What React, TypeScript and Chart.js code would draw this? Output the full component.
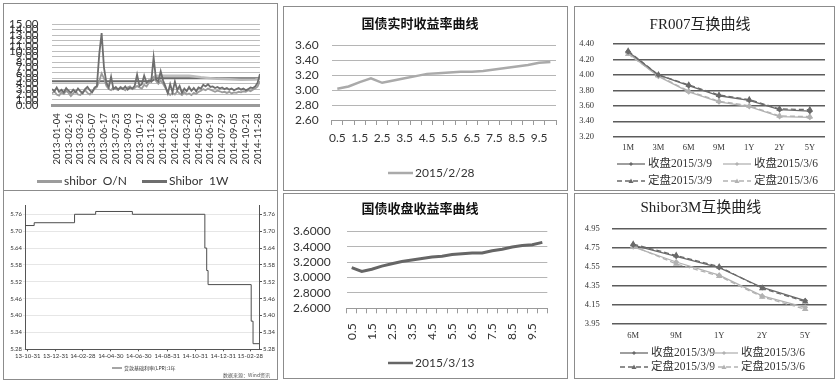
import React, { useEffect, useRef } from 'react';
import { Chart, registerables } from 'chart.js';

Chart.register(...registerables);

// ---------- Shibor O/N and 1W fixings, 2013-01 .. 2014-12 ----------
const shiborTickDates = [
  '2013-01-04', '2013-02-16', '2013-03-26', '2013-05-07', '2013-06-17', '2013-07-25',
  '2013-09-03', '2013-10-17', '2013-11-26', '2014-01-06', '2014-02-18', '2014-03-28',
  '2014-05-09', '2014-06-19', '2014-07-29', '2014-09-05', '2014-10-21', '2014-11-28',
];
const shiborLevels = [0, 1, 2, 3, 4, 5, 6, 7, 8, 9, 10, 11, 12, 13, 14, 15];
const shiborON = [
  2.2, 2.6, 2.0, 1.8, 2.4, 2.1, 2.7, 2.3, 1.7, 2.2,
  2.6, 2.0, 1.9, 2.5, 2.8, 2.3, 2.0, 2.6, 3.0, 3.4,
  4.5, 5.9, 5.0, 3.6, 3.0, 2.8, 3.3, 3.0, 2.9, 3.4,
  3.1, 2.8, 3.3, 3.5, 3.0, 3.2, 3.6, 3.3, 3.1, 3.8,
  3.5, 4.2, 4.8, 5.2, 4.5, 4.0, 4.6, 4.0, 3.2, 2.4,
  1.9, 2.3, 2.0, 2.6, 2.2, 1.9, 2.4, 2.0, 2.2, 1.9,
  2.3, 2.1, 2.5, 2.7, 3.0, 2.8, 3.1, 2.9, 2.7, 2.5,
  2.7, 2.6, 2.4, 2.5, 2.3, 2.5, 2.2, 2.4, 2.3, 2.5,
  2.4, 2.6, 2.5, 2.8, 2.6, 2.9, 3.1, 3.5, 4.5,
];
const shibor1W = [
  3.0, 2.6, 3.3, 2.5, 2.9, 2.4, 3.2, 2.7, 2.3, 2.9,
  2.4, 3.1, 2.6, 2.2, 3.0, 3.4, 2.8, 2.4, 3.3, 3.6,
  9.5, 13.4, 7.0, 4.2, 3.3, 5.3, 3.0, 3.4, 2.9, 3.3,
  3.0, 3.5, 2.9, 3.3, 3.1, 3.6, 5.7, 3.6, 3.9, 5.5,
  4.2, 4.6, 4.4, 8.9, 4.8, 4.4, 6.3, 4.6, 3.5, 2.2,
  3.9, 2.4, 4.4, 2.8, 3.6, 2.3, 3.1, 2.6, 3.4, 2.7,
  3.2, 2.6, 3.3, 3.1, 3.8, 3.5, 3.9, 3.4, 3.5, 3.2,
  3.4, 3.1, 3.3, 3.0, 3.2, 2.9, 3.1, 2.8, 3.0, 3.2,
  2.9, 3.1, 2.8, 3.0, 3.3, 3.2, 3.5, 4.2, 5.8,
];
// smoother reference levels plotted behind the daily fixings
const shiborUpperX = [0, 42, 44, 88];
const shiborUpper = [4.45, 4.45, 5.0, 5.0];
const shiborSoftX = [41, 44, 58, 63, 70, 80, 86, 88];
const shiborSoft = [4.6, 5.5, 5.5, 5.2, 4.9, 4.75, 4.8, 4.9];

// ---------- government bond yield curves ----------
const bondTenors = ['0.5', '1', '1.5', '2', '2.5', '3', '3.5', '4', '4.5', '5',
  '5.5', '6', '6.5', '7', '7.5', '8', '8.5', '9', '9.5', '10'];
const realtimeYield = [3.02, 3.05, 3.11, 3.16, 3.10, 3.13, 3.16, 3.19, 3.22, 3.23,
  3.24, 3.25, 3.25, 3.26, 3.28, 3.30, 3.32, 3.34, 3.37, 3.38];
const closingYield = [3.13, 3.08, 3.11, 3.15, 3.18, 3.21, 3.23, 3.25, 3.27, 3.28,
  3.30, 3.31, 3.32, 3.32, 3.35, 3.37, 3.40, 3.42, 3.43, 3.46];

// ---------- FR007 swap curve ----------
const fr007Tenors = ['1M', '3M', '6M', '9M', '1Y', '2Y', '5Y'];
const fr007Close0309 = [4.30, 4.00, 3.86, 3.73, 3.67, 3.55, 3.53];
const fr007Close0306 = [4.28, 3.98, 3.78, 3.65, 3.59, 3.46, 3.45];
const fr007Fix0309 = [4.31, 4.00, 3.87, 3.74, 3.68, 3.56, 3.55];
const fr007Fix0306 = [4.27, 3.99, 3.79, 3.66, 3.60, 3.47, 3.46];

// ---------- Shibor 3M swap curve ----------
const s3mTenors = ['6M', '9M', '1Y', '2Y', '5Y'];
const s3mClose0309 = [4.78, 4.66, 4.54, 4.33, 4.19];
const s3mClose0306 = [4.76, 4.60, 4.46, 4.24, 4.12];
const s3mFix0309 = [4.79, 4.67, 4.55, 4.32, 4.18];
const s3mFix0306 = [4.77, 4.58, 4.45, 4.23, 4.10];

// ---------- 1Y loan prime rate ----------
const lprStart = '2013-10-25';
const lprEnd = '2015-03-19';
const lprDates = ['2013-10-25', '2013-11-14', '2014-02-10', '2014-03-28', '2014-06-16',
  '2014-11-21', '2014-11-25', '2014-11-28', '2015-03-02', '2015-03-06', '2015-03-19'];
const lprValues = [5.72, 5.73, 5.76, 5.77, 5.76, 5.64, 5.56, 5.51, 5.38, 5.30, 5.30];
const lprTickDates = ['2013-10-31', '2013-12-31', '2014-02-28', '2014-04-30', '2014-06-30',
  '2014-08-31', '2014-10-31', '2014-12-31', '2015-02-28'];
const lprLevels = [5.28, 5.34, 5.40, 5.46, 5.52, 5.58, 5.64, 5.70, 5.76];

const SANS = 'Lato, "Noto Sans CJK SC", sans-serif';
const SERIF = '"Liberation Serif", "Noto Sans CJK SC", serif';
const CJK = '"Noto Sans CJK SC", sans-serif';
const DARK = '#6a6a6a';
const LIGHT = '#b2b2b2';

const dayOf = (d: string) => (Date.parse(d) - Date.parse(lprStart)) / 864e5;

// small filled marker used in the swap-curve legends
function drawMarker(ctx: CanvasRenderingContext2D, style: string, x: number, y: number, r: number, color: string) {
  ctx.fillStyle = color;
  ctx.strokeStyle = color;
  ctx.setLineDash([]);
  ctx.beginPath();
  if (style === 'triangle') {
    ctx.moveTo(x, y - r);
    ctx.lineTo(x + r, y + r * 0.8);
    ctx.lineTo(x - r, y + r * 0.8);
  } else {
    ctx.moveTo(x, y - r);
    ctx.lineTo(x + r, y);
    ctx.lineTo(x, y + r);
    ctx.lineTo(x - r, y);
  }
  ctx.closePath();
  ctx.fill();
}

// legend drawn as a short line sample (with optional marker) followed by the series name
const lineLegend = {
  id: 'lineLegend',
  afterDraw(chart: any, _args: unknown, opts: any) {
    if (!opts || !opts.entries) return;
    const ctx: CanvasRenderingContext2D = chart.ctx;
    ctx.save();
    ctx.font = opts.font;
    ctx.textBaseline = 'middle';
    ctx.textAlign = 'left';
    for (const e of opts.entries) {
      const ds = chart.data.datasets[e.index];
      ctx.strokeStyle = ds.borderColor;
      ctx.lineWidth = opts.lineWidth || ds.borderWidth;
      ctx.setLineDash(ds.borderDash || []);
      ctx.beginPath();
      ctx.moveTo(e.x, e.y);
      ctx.lineTo(e.x + opts.sample, e.y);
      ctx.stroke();
      if (opts.markers && ds.pointStyle) {
        drawMarker(ctx, ds.pointStyle, e.x + opts.sample / 2, e.y, ds.pointRadius, ds.borderColor);
      }
      ctx.fillStyle = opts.color;
      ctx.fillText(ds.label, e.x + opts.sample + opts.gap, e.y);
    }
    ctx.restore();
  },
};

const captions = {
  id: 'captions',
  afterDraw(chart: any, _args: unknown, opts: any) {
    if (!opts || !opts.items) return;
    const ctx: CanvasRenderingContext2D = chart.ctx;
    ctx.save();
    ctx.textBaseline = 'middle';
    for (const c of opts.items) {
      ctx.font = c.font;
      ctx.fillStyle = c.color;
      ctx.textAlign = c.align || 'left';
      ctx.fillText(c.text, c.x, c.y);
    }
    ctx.restore();
  },
};

Chart.register(lineLegend, captions);

const fixWidth = (w: number) => (s: any) => { s.width = w; };
const fixHeight = (h: number) => (s: any) => { s.height = h; };

function shiborConfig(): any {
  return {
    type: 'line',
    data: {
      datasets: [
        { label: 'shibor  O/N', data: shiborON.map((y, i) => ({ x: i, y })), borderColor: '#9c9c9c', borderWidth: 1.8, pointRadius: 0, order: 1 },
        { label: 'Shibor  1W', data: shibor1W.map((y, i) => ({ x: i, y })), borderColor: '#6e6e6e', borderWidth: 1.8, pointRadius: 0, order: 0 },
        { label: '', data: shiborUpperX.map((x, i) => ({ x, y: shiborUpper[i] })), borderColor: '#6a6a6a', borderWidth: 2, pointRadius: 0, order: 3 },
        { label: '', data: shiborSoftX.map((x, i) => ({ x, y: shiborSoft[i] })), borderColor: '#bdbdbd', borderWidth: 2.5, pointRadius: 0, order: 2 },
      ],
    },
    options: {
      animation: false, responsive: false,
      layout: { padding: { left: 0, right: 0, top: 9, bottom: 0 } },
      plugins: {
        legend: { display: false }, tooltip: { enabled: false },
        lineLegend: {
          font: `12px ${SANS}`, color: '#333', sample: 25, gap: 2, lineWidth: 3,
          entries: [{ index: 0, x: 33, y: 177.5 }, { index: 1, x: 138, y: 177.5 }],
        },
      },
      scales: {
        x: {
          type: 'linear', min: 0, max: 88,
          afterBuildTicks: (s: any) => { s.ticks = shiborTickDates.map((_d, k) => ({ value: 2 + 5 * k })); },
          afterFit: fixHeight(84.7),
          grid: { display: false, drawTicks: false },
          border: { display: true, color: '#9a9a9a', width: 3 },
          ticks: {
            autoSkip: false, minRotation: 90, maxRotation: 90, padding: 8, color: '#333',
            font: { family: SANS, size: 9.5 },
            callback: (v: number) => shiborTickDates[Math.round((v - 2) / 5)] ?? '',
          },
        },
        y: {
          min: 0, max: 15,
          afterBuildTicks: (s: any) => { s.ticks = shiborLevels.map((value) => ({ value })); },
          afterFit: fixWidth(48),
          grid: { color: '#bdbdbd', drawTicks: false },
          border: { display: false },
          ticks: { autoSkip: false, padding: 13.5, color: '#333', font: { family: SANS, size: 11.5 }, callback: (v: number) => v.toFixed(2) },
        },
      },
    },
  };
}

function yieldConfig(title: string, label: string, values: number[], color: string, width: number, digits: number, rotate: boolean, geom: any): any {
  return {
    type: 'line',
    data: {
      labels: bondTenors,
      datasets: [{ label, data: values, borderColor: color, borderWidth: width, pointRadius: 0, tension: 0 }],
    },
    options: {
      animation: false, responsive: false,
      layout: { padding: { left: 0, right: geom.right, top: 0, bottom: 0 } },
      plugins: {
        legend: { display: false }, tooltip: { enabled: false },
        title: {
          display: true, text: title, color: '#111',
          font: { family: CJK, size: 13, weight: 'bold', lineHeight: 1.2 },
          padding: { top: geom.titleTop, bottom: geom.titleBottom },
        },
        lineLegend: {
          font: `12px ${SANS}`, color: '#333', sample: 25, gap: 2, lineWidth: 2.5,
          entries: [{ index: 0, x: 104, y: geom.legendY }],
        },
      },
      scales: {
        x: {
          offset: true,
          afterFit: fixHeight(geom.xHeight),
          grid: { offset: true, drawOnChartArea: false, drawTicks: true, tickLength: 5, color: '#9a9a9a' },
          border: { display: true, color: '#9a9a9a' },
          ticks: {
            autoSkip: false, minRotation: rotate ? 90 : 0, maxRotation: rotate ? 90 : 0,
            padding: rotate ? 10 : 6, color: '#333', font: { family: SANS, size: 12 },
            callback: (_v: number, i: number) => (i % 2 === 0 ? bondTenors[i] : ''),
          },
        },
        y: {
          min: 2.6, max: 3.6,
          afterFit: fixWidth(geom.yWidth),
          grid: { color: '#b5b5b5', drawTicks: false },
          border: { display: false },
          ticks: { stepSize: 0.2, autoSkip: false, padding: geom.yPad, color: '#333', font: { family: SANS, size: 12 }, callback: (v: number) => v.toFixed(digits) },
        },
      },
    },
  };
}

function swapDatasets(a: number[], b: number[], c: number[], d: number[]) {
  return [
    { label: '收盘2015/3/9', data: a, borderColor: DARK, backgroundColor: DARK, borderWidth: 1.3, pointStyle: 'rectRot', pointRadius: 2, tension: 0 },
    { label: '收盘2015/3/6', data: b, borderColor: LIGHT, backgroundColor: LIGHT, borderWidth: 1.3, pointStyle: 'rectRot', pointRadius: 2, tension: 0 },
    { label: '定盘2015/3/9', data: c, borderColor: DARK, backgroundColor: DARK, borderWidth: 1.3, borderDash: [5, 3], pointStyle: 'triangle', pointRadius: 2.5, tension: 0 },
    { label: '定盘2015/3/6', data: d, borderColor: LIGHT, backgroundColor: LIGHT, borderWidth: 1.3, borderDash: [5, 3], pointStyle: 'triangle', pointRadius: 2.5, tension: 0 },
  ];
}

function swapConfig(title: string, tenors: string[], sets: any[], min: number, max: number, geom: any): any {
  return {
    type: 'line',
    data: { labels: tenors, datasets: sets },
    options: {
      animation: false, responsive: false,
      layout: { padding: { left: 0, right: geom.right, top: 0, bottom: 0 } },
      plugins: {
        legend: { display: false }, tooltip: { enabled: false },
        title: {
          display: true, text: title, color: '#222',
          font: { family: SERIF, size: 15, weight: 'normal', lineHeight: 1.2 },
          padding: { top: geom.titleTop, bottom: geom.titleBottom },
        },
        lineLegend: {
          font: `11.5px ${SERIF}`, color: '#333', sample: 28, gap: 3, markers: true,
          entries: [
            { index: 0, x: geom.col1, y: geom.row1 }, { index: 1, x: geom.col2, y: geom.row1 },
            { index: 2, x: geom.col1, y: geom.row2 }, { index: 3, x: geom.col2, y: geom.row2 },
          ],
        },
      },
      scales: {
        x: {
          offset: true,
          afterFit: fixHeight(geom.xHeight),
          grid: { display: false, drawTicks: false },
          border: { display: false },
          ticks: { padding: geom.xPad, color: '#333', font: { family: SERIF, size: 8.5 } },
        },
        y: {
          min, max,
          afterFit: fixWidth(geom.yWidth),
          grid: { color: '#5c5c5c', lineWidth: 1.4, drawTicks: false },
          border: { display: false },
          ticks: { stepSize: 0.2, autoSkip: false, padding: geom.yPad, color: '#333', font: { family: SERIF, size: 8.5 }, callback: (v: number) => v.toFixed(2) },
        },
      },
    },
  };
}

function lprConfig(): any {
  const tickDays = lprTickDates.map(dayOf);
  const fmt = (v: number) => {
    const k = tickDays.indexOf(v);
    return k >= 0 ? lprTickDates[k].slice(2) : '';
  };
  const yCommon = {
    min: 5.28, max: 5.793,
    afterBuildTicks: (s: any) => { s.ticks = lprLevels.map((value) => ({ value })); },
    border: { display: true, color: '#555' },
  };
  return {
    type: 'line',
    data: {
      datasets: [{
        label: '贷款基础利率(LPR):1年',
        data: lprDates.map((d, i) => ({ x: dayOf(d), y: lprValues[i] })),
        borderColor: '#4d4d4d', borderWidth: 1, pointRadius: 0, stepped: true,
      }],
    },
    options: {
      animation: false, responsive: false,
      layout: { padding: { left: 0, right: 0, top: 14, bottom: 0 } },
      plugins: {
        legend: { display: false }, tooltip: { enabled: false },
        lineLegend: {
          font: `5px ${CJK}`, color: '#333', sample: 10, gap: 2, lineWidth: 1,
          entries: [{ index: 0, x: 108, y: 177 }],
        },
        captions: {
          items: [{ text: '数据来源：Wind资讯', x: 266, y: 184, font: `5px ${CJK}`, color: '#555', align: 'right' }],
        },
      },
      scales: {
        x: {
          type: 'linear', min: 0, max: dayOf(lprEnd),
          afterBuildTicks: (s: any) => { s.ticks = tickDays.map((value) => ({ value })); },
          afterFit: fixHeight(29.7),
          grid: { drawOnChartArea: false, tickLength: 2, color: '#555' },
          border: { display: true, color: '#555' },
          ticks: { autoSkip: false, maxRotation: 0, padding: 1, color: '#333', font: { family: SANS, size: 6 }, callback: fmt },
        },
        y: {
          ...yCommon,
          afterFit: fixWidth(21),
          grid: { color: '#e6e6e6', tickLength: 2 },
          ticks: { padding: 1, color: '#333', font: { family: SANS, size: 6 }, callback: (v: number) => v.toFixed(2) },
        },
        y2: {
          ...yCommon,
          position: 'right',
          afterFit: fixWidth(18),
          grid: { drawOnChartArea: false, tickLength: 3, color: '#555' },
          ticks: { padding: 1, color: '#333', font: { family: SANS, size: 6 }, callback: (v: number) => v.toFixed(2) },
        },
      },
    },
  };
}

type Box = [number, number, number, number];

function Panel({ box, build, blur }: { box: Box; build: () => any; blur?: string }) {
  const ref = useRef<HTMLCanvasElement>(null);
  useEffect(() => {
    const chart = new Chart(ref.current as HTMLCanvasElement, build());
    return () => chart.destroy();
  }, []);
  const [l, t, w, h] = box;
  return (
    <div style={{
      position: 'absolute', left: l, top: t, width: w, height: h, boxSizing: 'border-box',
      border: '1px solid #8c8c8c', overflow: 'hidden', background: '#fff',
    }}>
      <canvas ref={ref} width={w - 2} height={h - 2} style={{ display: 'block', filter: blur }} />
    </div>
  );
}

export default function App() {
  return (
    <div style={{ position: 'absolute', left: 0, top: 0, width: 837, height: 381, background: '#fff', overflow: 'hidden' }}>
      <Panel box={[3, 3, 275, 188]} build={shiborConfig} />
      <Panel box={[283, 6, 285, 185]} build={() => yieldConfig('国债实时收益率曲线', '2015/2/28', realtimeYield, '#aaaaaa', 2.5, 2, false,
        { right: 11, titleTop: 8, titleBottom: 15, xHeight: 70, yWidth: 47.7, yPad: 13, legendY: 166 })} />
      <Panel box={[574, 6, 261, 185]} build={() => swapConfig('FR007互换曲线', fr007Tenors,
        swapDatasets(fr007Close0309, fr007Close0306, fr007Fix0309, fr007Fix0306), 3.2, 4.4,
        { right: 9, titleTop: 9, titleBottom: 10, xHeight: 53.3, yWidth: 38, yPad: 19, xPad: 6, col1: 42, col2: 148, row1: 157, row2: 174 })} />
      <Panel box={[3, 190, 275, 190]} build={lprConfig} blur="blur(0.6px)" />
      <Panel box={[283, 193, 285, 186]} build={() => yieldConfig('国债收盘收益率曲线', '2015/3/13', closingYield, '#666666', 3, 4, true,
        { right: 11, titleTop: 6, titleBottom: 16, xHeight: 69.7, yWidth: 62.7, yPad: 16, legendY: 169 })} />
      <Panel box={[574, 193, 261, 186]} build={() => swapConfig('Shibor3M互换曲线', s3mTenors,
        swapDatasets(s3mClose0309, s3mClose0306, s3mFix0309, s3mFix0306), 3.95, 4.95,
        { right: 7.3, titleTop: 5, titleBottom: 12, xHeight: 54.7, yWidth: 36.7, yPad: 12, xPad: 7, col1: 45, col2: 135, row1: 159, row2: 173 })} />
    </div>
  );
}
